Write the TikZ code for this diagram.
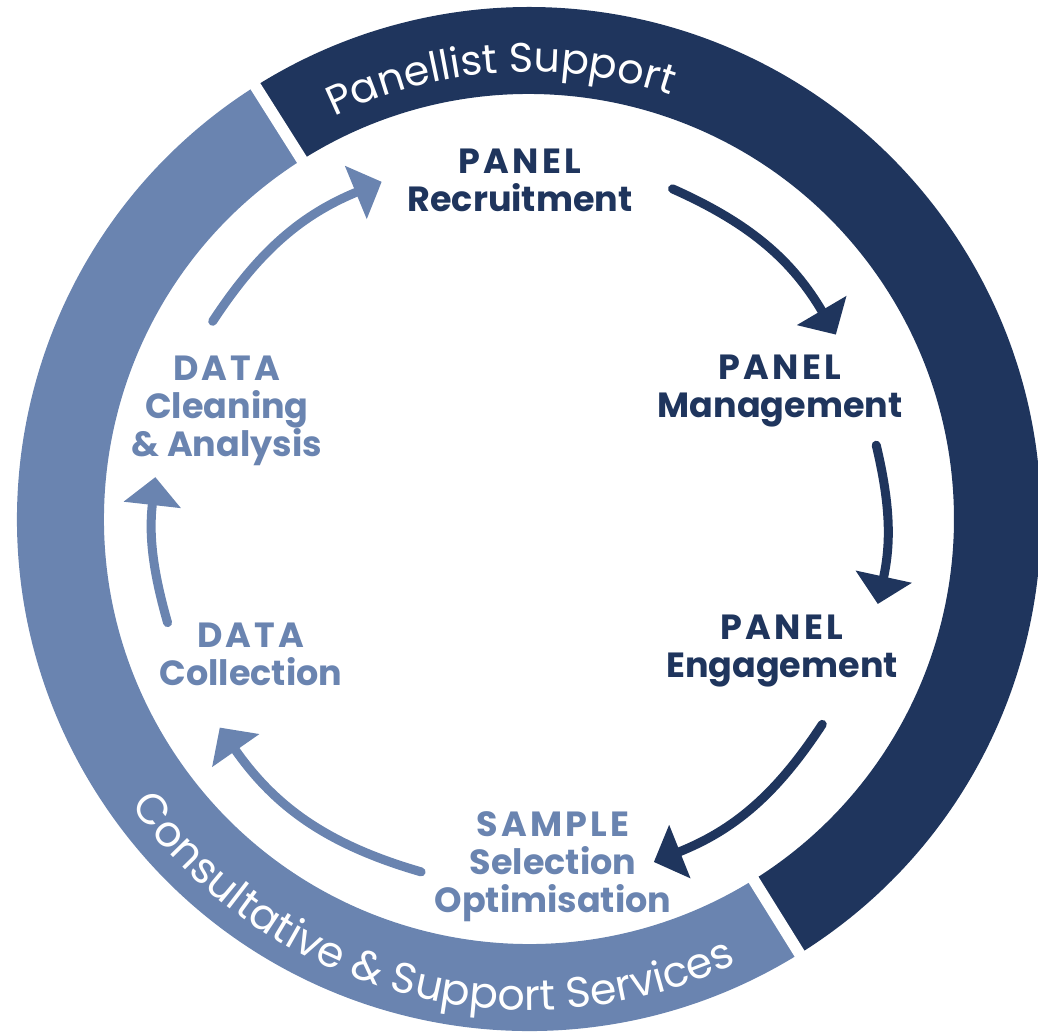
\documentclass[tikz,border=0pt]{standalone}
\usepackage{fontspec}
\setmainfont{Poppins}
\usetikzlibrary{arrows.meta, decorations.text}

\definecolor{navy}{RGB}{31,53,93}
\definecolor{steel}{RGB}{106,132,176}
\newcommand{\stagefont}{\bfseries\fontsize{19.9}{21.6}\selectfont}
\newcommand{\ringfont}{\fontsize{23.5}{26}\selectfont}
\newcommand{\ringfontb}{\fontsize{24.3}{27}\selectfont}
\newcommand{\caps}[1]{{\addfontfeature{LetterSpace=9}#1}}

\begin{document}
\begin{tikzpicture}[
    scale=2,
    stage/.style={align=center, font=\stagefont, inner sep=0pt, text depth=0pt},
    panel/.style={stage, text=navy},
    data/.style={stage, text=steel},
    arrow/.style={-{Triangle[width=1.12cm, length=0.56cm]}, line width=0.18cm, line cap=round},
    gap/.style={white, line width=0.23cm}
]
\useasboundingbox (-5.29,-5.16) rectangle (5.09,5.19);

% Outer ring
\fill[navy] (-58:5.12) arc[start angle=-58, end angle=122.2, radius=5.12]
    -- (122.2:4.25) arc[start angle=122.2, end angle=-58, radius=4.25] -- cycle;
\fill[steel] (122.2:5.12) arc[start angle=122.2, end angle=302, radius=5.12]
    -- (302:4.25) arc[start angle=302, end angle=122.2, radius=4.25] -- cycle;
\draw[gap] (122.3:4.1) -- (122.3:5.3);
\draw[gap] (-58.1:4.1) -- (-58.1:5.3);

% Ring labels
\path[decorate, decoration={text along path, text align=center, text color=white,
    text={|\ringfont|Panellist Support}}]
    (155:4.47) arc[start angle=155, end angle=32.4, radius=4.47];
\path[decorate, decoration={text along path, text align=center, text color=white,
    text={|\ringfontb|Consultative {\&} Support Services}}]
    (195:4.91) arc[start angle=195, end angle=315.8, radius=4.91];

% Stages
\node[panel] (recruit) at (-0.09,3.39) {\caps{PANEL}\\Recruitment};
\node[panel] (manage) at (2.51,1.33) {\caps{PANEL}\\Management};
\node[panel] (engage) at (2.53,-1.27) {\caps{PANEL}\\Engagement};
\node[data] (sample) at (0.24,-3.43) {\caps{SAMPLE}\\Selection\\Optimisation};
\node[data] (collect) at (-2.78,-1.35) {\caps{DATA}\\Collection};
\node[data] (clean) at (-3.02,1.13) {\caps{DATA}\\Cleaning\\\& Analysis};

% Arrow ends
\coordinate (a1s) at (66.5:3.60);
\coordinate (a1e) at (31:3.58);
\coordinate (a2s) at (12:3.55);
\coordinate (a2e) at (-13.7:3.59);
\coordinate (a3s) at (-35:3.58);
\coordinate (a3e) at (-70:3.65);
\coordinate (a4s) at (-107:3.69);
\coordinate (a4e) at (-146:3.73);
\coordinate (a5s) at (-164:3.76);
\coordinate (a5e) at (173.6:3.76);
\coordinate (a6s) at (148:3.73);
\coordinate (a6e) at (113.6:3.68);

% Arrows
\draw[arrow, navy] (a1s) to[bend left=17.75] (a1e);
\draw[arrow, navy] (a2s) to[bend left=12.85] (a2e);
\draw[arrow, navy] (a3s) to[bend left=17.5] (a3e);
\draw[arrow, steel] (a4s) to[bend left=19.5] (a4e);
\draw[arrow, steel] (a5s) to[bend left=11.2] (a5e);
\draw[arrow, steel] (a6s) to[bend left=17.2] (a6e);

\end{tikzpicture}
\end{document}
